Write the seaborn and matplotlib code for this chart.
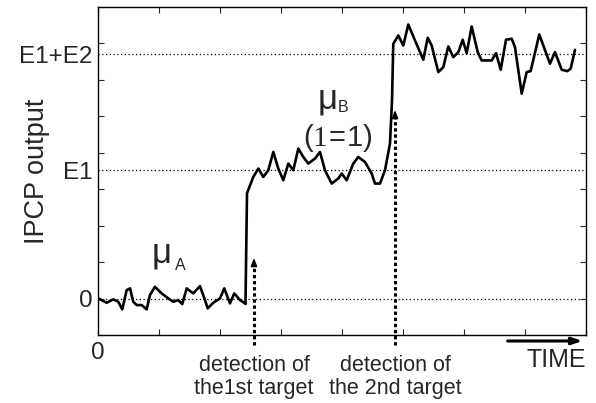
import matplotlib
matplotlib.use("Agg")
import matplotlib.pyplot as plt
import matplotlib.transforms as mtransforms
import pandas as pd
import seaborn as sns

# IPCP output trace over time
time = [0.005, 0.143, 0.251, 0.333, 0.398, 0.470, 0.525, 0.579, 0.634, 0.716,
        0.798, 0.852, 0.934, 1.044, 1.152, 1.234, 1.316, 1.382, 1.454, 1.562,
        1.672, 1.754, 1.798, 1.890, 2.000, 2.070, 2.164, 2.234, 2.328, 2.410,
        2.418, 2.443, 2.546, 2.628, 2.710, 2.792, 2.874, 2.956, 3.038, 3.120,
        3.202, 3.284, 3.366, 3.448, 3.557, 3.639, 3.721, 3.831, 3.939, 3.995,
        4.077, 4.185, 4.267, 4.377, 4.487, 4.541, 4.623, 4.705, 4.787, 4.820,
        4.841, 4.923, 5.005, 5.087, 5.197, 5.333, 5.405, 5.470, 5.579, 5.661,
        5.743, 5.825, 5.907, 5.979, 6.044, 6.126, 6.225, 6.290, 6.454, 6.525,
        6.602, 6.689, 6.782, 6.836, 6.946, 7.028, 7.093, 7.234, 7.410, 7.492,
        7.602, 7.693, 7.749, 7.820]
ipcp = [0.005, -0.115, -0.022, -0.088, -0.296, 0.233, 0.279, -0.088, -0.178, -0.178,
        -0.296, 0.096, 0.323, 0.142, 0.005, -0.088, -0.041, -0.151, 0.279, 0.142,
        0.342, -0.041, -0.268, -0.115, 0.005, 0.279, -0.132, 0.142, -0.041, -0.132,
        -0.151, 2.890, 3.337, 3.567, 3.337, 3.521, 4.022, 3.567, 3.247, 3.704,
        3.521, 4.115, 3.885, 3.704, 3.841, 4.022, 3.521, 3.156, 3.293, 3.430,
        3.247, 3.704, 3.885, 3.748, 3.430, 3.156, 3.156, 3.521, 4.252, 5.438,
        6.992, 7.219, 6.945, 7.521, 7.082, 6.553, 7.156, 6.945, 6.214, 6.351,
        6.918, 6.625, 6.762, 7.101, 6.734, 7.466, 6.762, 6.534, 6.534, 6.734,
        6.279, 7.101, 7.129, 6.899, 5.622, 6.214, 6.241, 7.247, 6.444, 6.762,
        6.279, 6.241, 6.307, 6.827]

levels = [0.0, 3.52, 6.70]
level_labels = ["0", "E1", "E1+E2"]
detection_times = [2.557, 4.869]
detection_tips = [1.19, 5.25]
detection_labels = ["detection of\nthe1st target", "detection of\nthe 2nd target"]

sns.set_style("ticks")
plt.rcParams["font.family"] = ["Liberation Sans", "DejaVu Sans"]
plt.rcParams["mathtext.fontset"] = "custom"
plt.rcParams["mathtext.rm"] = "Liberation Serif"
plt.rcParams["mathtext.sf"] = "Liberation Sans"

fig = plt.figure(figsize=(5.96, 4.03), dpi=100)
ax = fig.add_axes([0.1644, 0.1687, 0.8188, 0.8139])

df = pd.DataFrame({"time": time, "ipcp": ipcp})
sns.lineplot(data=df, x="time", y="ipcp", ax=ax, color="black",
             linewidth=1.9, sort=False, estimator=None)

ax.set_xlim(0, 8)
ax.set_ylim(-1, 8)
ax.set_xlabel("")
ax.set_ylabel("IPCP output", fontsize=19.5)
ax.yaxis.set_label_coords(-0.098, 0.5)

# labelled reference levels with dotted grid, plain inward ticks at unit steps
ax.set_yticks(levels)
ax.set_yticklabels(level_labels)
ax.set_xticks([0])
ax.set_xticklabels(["0"])
ax.set_xticks(range(9), minor=True)
ax.set_yticks(range(-1, 9), minor=True)
ax.xaxis.remove_overlapping_locs = False
ax.yaxis.remove_overlapping_locs = False
ax.tick_params(which="major", length=0, labelsize=17.5)
ax.tick_params(axis="y", which="major", pad=4)
ax.tick_params(axis="x", which="major", pad=5)
ax.tick_params(which="minor", direction="in", length=4, width=0.8,
               top=True, right=True)
ax.grid(axis="y", which="major", color="black", linewidth=0.9,
        linestyle=(0, (1, 2)))
for s in ax.spines.values():
    s.set_visible(True)
    s.set_linewidth(1.0)
    s.set_color("black")

# detection markers: dotted shafts with arrow heads
trans = mtransforms.blended_transform_factory(ax.transData, ax.transAxes)
for t, tip, lab in zip(detection_times, detection_tips, detection_labels):
    ax.plot([t, t], [-1.27, tip - 0.25], color="black", linewidth=2.2,
            linestyle=(0, (1.1, 0.9)), clip_on=False)
    ax.annotate("", xy=(t, tip), xytext=(t, tip - 0.3),
                arrowprops=dict(arrowstyle="-|>,head_width=0.18,head_length=0.45",
                                color="black", lw=1.2),
                annotation_clip=False)
    ax.text(t, -0.062, lab, transform=trans, ha="center", va="top",
            fontsize=15.5, linespacing=1.12)

# time direction
ax.annotate("", xy=(7.99, -1.164), xytext=(6.67, -1.164),
            arrowprops=dict(arrowstyle="-|>,head_width=0.2,head_length=0.6",
                            color="black", lw=2.2),
            annotation_clip=False)
ax.text(1.0, -0.0976, "TIME", transform=ax.transAxes, ha="right",
        va="baseline", fontsize=18)

# state labels
ax.text(0.885, 1.00, "\u03bc", fontsize=25, ha="left", va="baseline")
ax.text(1.262, 0.78, "A", fontsize=11.5, ha="left", va="baseline")
ax.text(3.607, 5.22, "\u03bc", fontsize=25, ha="left", va="baseline")
ax.text(3.934, 5.11, "B", fontsize=11.5, ha="left", va="baseline")
ax.text(3.36, 4.18, r"$\mathsf{(}\mathrm{1}\!\mathsf{=}\!\mathsf{1)}$",
        fontsize=21, ha="left", va="baseline")

fig.savefig("out.png", dpi=100)
